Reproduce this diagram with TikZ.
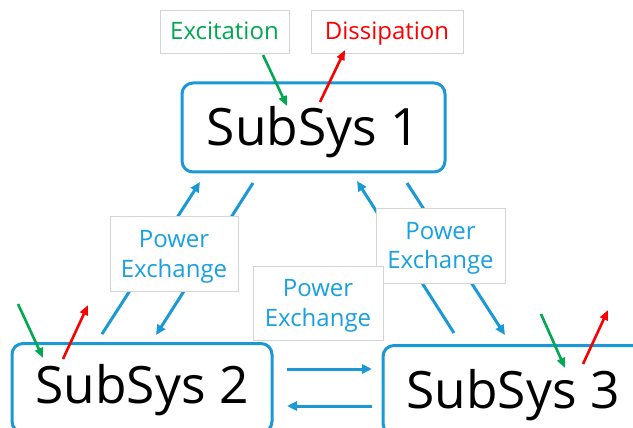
\documentclass[tikz,border=0pt]{standalone}
\usepackage{fontspec}
\setmainfont{Open Sans}
\usetikzlibrary{arrows.meta}
\definecolor{sysblue}{RGB}{27,152,214}
\definecolor{pxblue}{RGB}{24,160,225}
\definecolor{exgreen}{RGB}{0,168,80}
\definecolor{dsred}{RGB}{250,0,0}
\definecolor{lblgray}{RGB}{212,212,212}
\tikzset{
  x=1pt, y=-1pt,
  sysbox/.style={draw=sysblue, line width=3pt, rounded corners=11pt, fill=white,
    minimum width=260pt, minimum height=89pt, inner sep=0pt,
    text height=37pt, text depth=0pt,
    font=\fontsize{51.5}{60}\selectfont},
  lblbox/.style={draw=lblgray, line width=0.7pt, fill=white, inner sep=0pt,
    align=center, text height=17pt, text depth=0pt,
    font=\fontsize{24}{30}\selectfont},
  pxbox/.style={lblbox, text=pxblue, text height=47pt},
  flow/.style={sysblue, line width=3pt, -{Triangle[length=10pt,width=9pt]}},
  inflow/.style={exgreen, line width=2.6pt, -{Triangle[length=10pt,width=8pt]}},
  outflow/.style={dsred, line width=2.6pt, -{Triangle[length=10pt,width=8pt]}},
}
\begin{document}
\begin{tikzpicture}
\useasboundingbox (0,0) rectangle (633,428);
\clip (0,0) rectangle (633,428);

% subsystems
\node[sysbox, minimum width=263pt] (s1) at (313.5,127.5) {SubSys 1};
\node[sysbox] (s2) at (142,388) {\raisebox{3pt}{SubSys 2}};
\node[sysbox] (s3) at (513,390) {SubSys 3};

% end points of the exchange arrows
\coordinate (a1) at (102,334); \coordinate (b1) at (200,182);
\coordinate (a2) at (253,183); \coordinate (b2) at (156,335);
\coordinate (a3) at (454,333); \coordinate (b3) at (357,181);
\coordinate (a4) at (407,183); \coordinate (b4) at (505,335);
\coordinate (a5) at (287,369); \coordinate (b5) at (372,369);
\coordinate (a6) at (372,406); \coordinate (b6) at (287,406);

\draw[flow] (a1) -- (b1);
\draw[flow] (a2) -- (b2);
\draw[flow] (a3) -- (b3);
\draw[flow] (a4) -- (b4);
\draw[flow] (a5) -- (b5);
\draw[flow] (a6) -- (b6);

% excitation / dissipation
\node[lblbox, text=exgreen, minimum width=129pt, minimum height=43pt] (ex) at (224.5,31.5) {Excitation};
\node[lblbox, text=dsred, minimum width=152pt, minimum height=43pt] (ds) at (387,31.5) {Dissipation};

\coordinate (g1a) at (263,55);  \coordinate (g1b) at (287,106);
\coordinate (r1a) at (320,102); \coordinate (r1b) at (345,50);
\coordinate (g2a) at (18,304);  \coordinate (g2b) at (43,358);
\coordinate (r2a) at (63,359);  \coordinate (r2b) at (88,305);
\coordinate (g3a) at (541,314); \coordinate (g3b) at (565,368);
\coordinate (r3a) at (583,364); \coordinate (r3b) at (608,310);

\draw[inflow] (g1a) -- (g1b);
\draw[outflow] (r1a) -- (r1b);
\draw[inflow] (g2a) -- (g2b);
\draw[outflow] (r2a) -- (r2b);
\draw[inflow] (g3a) -- (g3b);
\draw[outflow] (r3a) -- (r3b);

% power exchange labels
\node[pxbox, minimum width=128pt, minimum height=75pt] (p12) at (174,253.5) {Power\\Exchange};
\node[pxbox, minimum width=129pt, minimum height=75pt] (p13) at (440.5,245.5) {Power\\Exchange};
\node[pxbox, minimum width=130pt, minimum height=74pt] (p23) at (318,303) {Power\\Exchange};
\end{tikzpicture}
\end{document}
